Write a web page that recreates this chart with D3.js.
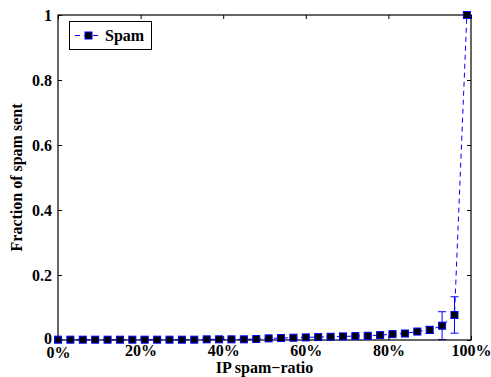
<!DOCTYPE html>
<html><head><meta charset="utf-8">
<script src="https://cdn.jsdelivr.net/npm/d3@7"></script>
<style>body{margin:0;background:#fff}svg{display:block}svg text{font-family:"Liberation Serif","Times New Roman",serif !important;font-weight:bold !important}</style>
</head><body><svg id="c" width="491" height="377"></svg>
<script>
const xValues = [0,3,6,9,12,15,18,21,24,27,30,33,36,39,42,45,48,51,54,57,60,63,66,69,72,75,78,81,84,87,90,93,96,99];
const spamFraction = [0.001,0.001,0.001,0.001,0.001,0.001,0.001,0.001,0.001,0.001,0.001,0.001,0.002,0.002,0.002,0.002,0.003,0.005,0.006,0.007,0.008,0.009,0.010,0.011,0.012,0.013,0.015,0.018,0.020,0.026,0.031,0.044,0.077,1.0];
const spamError = [0.002,0.002,0.002,0.002,0.002,0.002,0.002,0.002,0.002,0.002,0.002,0.002,0.002,0.002,0.002,0.002,0.002,0.002,0.002,0.002,0.002,0.002,0.002,0.003,0.003,0.003,0.003,0.004,0.004,0.007,0.011,0.043,0.056,0];
const xTicks = [0,20,40,60,80,100];
const yTicks = [0,0.2,0.4,0.6,0.8,1];
const seriesName = "Spam";

const svg = d3.select("#c");
const L=58,R=471,T=15,B=340;
const x = d3.scaleLinear().domain([0,100]).range([L,R]);
const y = d3.scaleLinear().domain([0,1]).range([B,T]);
const blue="#0000ff";
const FONT='"Liberation Serif","Times New Roman",serif';
const FS="16px";

// error bars
const eb = svg.append("g").attr("stroke",blue).attr("stroke-width",1);
xValues.forEach((xv,i)=>{
  const e=spamError[i]; if(!e) return;
  const lo=Math.max(0,spamFraction[i]-e), hi=spamFraction[i]+e;
  const cx=x(xv);
  eb.append("line").attr("x1",cx).attr("x2",cx).attr("y1",y(lo)).attr("y2",y(hi));
  eb.append("line").attr("x1",cx-4).attr("x2",cx+4).attr("y1",y(hi)).attr("y2",y(hi));
  eb.append("line").attr("x1",cx-4).attr("x2",cx+4).attr("y1",y(lo)).attr("y2",y(lo));
});
// dashed line
svg.append("path").datum(xValues.map((v,i)=>[v,spamFraction[i]]))
  .attr("fill","none").attr("stroke",blue).attr("stroke-width",1).attr("stroke-dasharray","5,4")
  .attr("d",d3.line().x(d=>x(d[0])).y(d=>y(d[1])));

// axes box
svg.append("rect").attr("x",L).attr("y",T).attr("width",R-L).attr("height",B-T)
  .attr("fill","none").attr("stroke","#000").attr("stroke-width",1.2);
const xa = d3.axisBottom(x).tickValues(xTicks).tickSize(-4).tickPadding(5).tickFormat(d=>d+"%");
const gx = svg.append("g").attr("transform",`translate(0,${B})`).call(xa);
const xt = d3.axisTop(x).tickValues(xTicks).tickSize(-4).tickFormat("");
const gxt = svg.append("g").attr("transform",`translate(0,${T})`).call(xt);
const ya = d3.axisLeft(y).tickValues(yTicks).tickSize(-4).tickPadding(6).tickFormat(d=>d===0||d===1?String(d):d3.format(".1f")(d));
const gy = svg.append("g").attr("transform",`translate(${L},0)`).call(ya);
const yr = d3.axisRight(y).tickValues(yTicks).tickSize(-4).tickFormat("");
const gyr = svg.append("g").attr("transform",`translate(${R},0)`).call(yr);
[gx,gxt,gy,gyr].forEach(g=>{g.attr("font-family",null).attr("font-size",null);
  g.select(".domain").remove();g.selectAll("line").attr("stroke","#000");
  g.selectAll("text").style("font-size",FS).style("font-family",FONT).style("font-weight","bold").attr("fill","#000");});
gy.selectAll("text").filter(d=>d===0).attr("dy","0.2em");
gx.selectAll("text").filter(d=>d===0).attr("dy","0.8em");

// markers
svg.append("g").selectAll("rect").data(xValues).join("rect")
  .attr("x",d=>x(d)-3.5).attr("y",(d,i)=>y(spamFraction[i])-3.5).attr("width",7).attr("height",7)
  .attr("fill","#000").attr("stroke",blue).attr("stroke-width",1);

// axis labels
svg.append("text").attr("x",(L+R)/2).attr("y",373).attr("text-anchor","middle").style("font-size",FS).text("IP spam\u2212ratio");
svg.append("text").attr("transform",`translate(22,${(T+B)/2}) rotate(-90)`).attr("text-anchor","middle").style("font-size",FS).text("Fraction of spam sent");

// legend
const lg = svg.append("g");
lg.append("rect").attr("x",69.5).attr("y",21.5).attr("width",82).attr("height",28).attr("fill","#fff").attr("stroke","#000").attr("stroke-width",1);
lg.append("line").attr("x1",75).attr("x2",102).attr("y1",35.5).attr("y2",35.5).attr("stroke",blue).attr("stroke-dasharray","5,4");
lg.append("rect").attr("x",85).attr("y",32).attr("width",7).attr("height",7).attr("fill","#000").attr("stroke",blue);
lg.append("text").attr("x",105).attr("y",41).style("font-size",FS).text(seriesName);
</script></body></html>
